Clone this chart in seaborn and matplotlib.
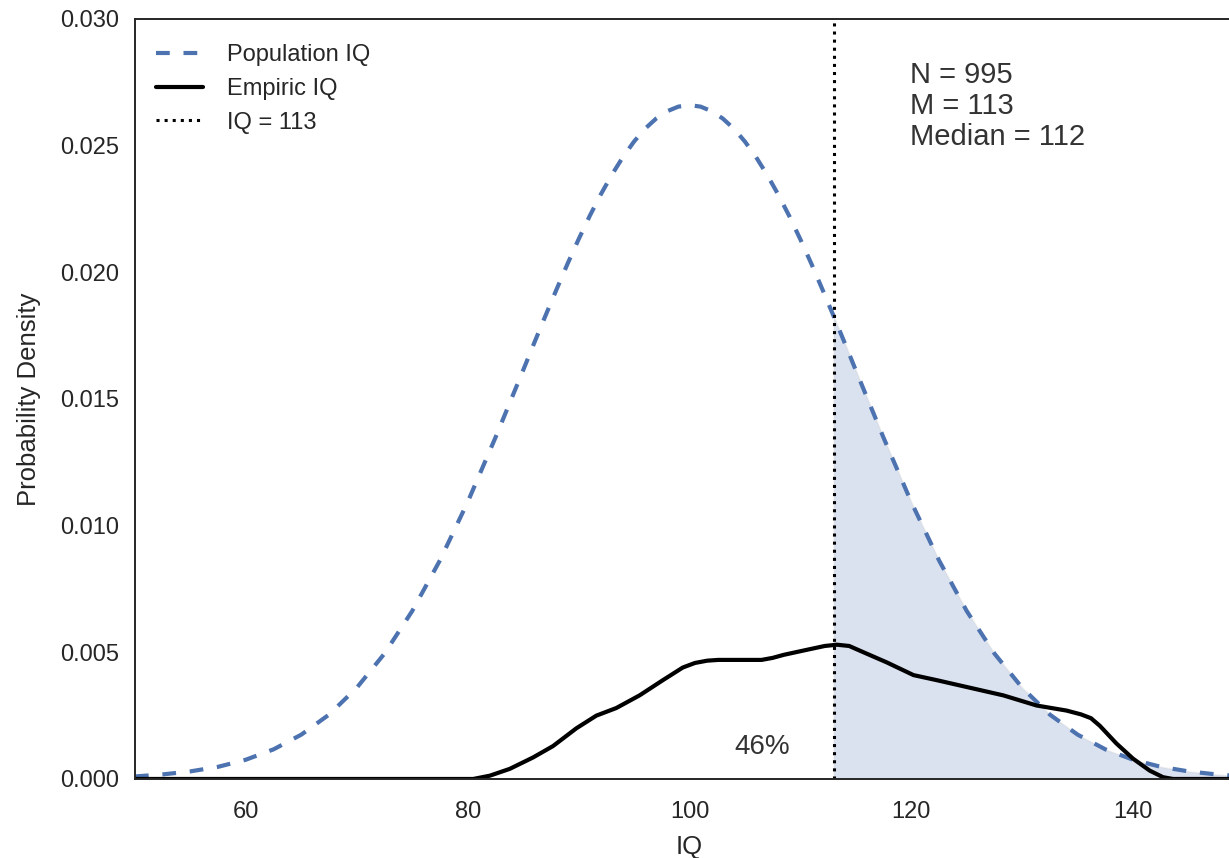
import numpy as np
import seaborn as sns
import matplotlib.pyplot as plt

# Population IQ density
pop_iq = [50, 52.5, 55, 57.5, 60, 62.5, 65, 67.5, 70, 72.5, 75, 77.5, 80, 82.5,
          85, 86, 87, 88, 89, 90, 91, 92, 93, 94, 95, 96, 97, 98, 99, 100,
          101, 102, 103, 104, 105, 106, 107, 108, 109, 110, 111, 112, 113, 114, 115,
          117.5, 120, 122.5, 125, 127.5, 130, 132.5, 135, 137.5, 140, 142.5, 145, 147.5, 150]
pop_density = [0.0001, 0.00018, 0.0003, 0.00048, 0.00076, 0.00117, 0.00175, 0.00254,
               0.0036, 0.00495, 0.00663, 0.00863, 0.01093, 0.01347,
               0.01613, 0.01721, 0.01827, 0.01931, 0.02033, 0.0213, 0.02222, 0.02307,
               0.02385, 0.02455, 0.02516, 0.02567, 0.02607, 0.02636, 0.02654, 0.0266,
               0.02654, 0.02636, 0.02607, 0.02567, 0.02516, 0.02455, 0.02385, 0.02307,
               0.02222, 0.0213, 0.02033, 0.01931, 0.01827, 0.01721, 0.01613,
               0.01347, 0.01093, 0.00863, 0.00663, 0.00495, 0.0036, 0.00254, 0.00175,
               0.00117, 0.00076, 0.00048, 0.0003, 0.00018, 0.0001]

# Empiric IQ density (black curve)
emp_iq = [50, 80.5, 82, 83.8, 85.9, 87.7, 89.8, 91.6, 93.4, 95.5, 97.6, 99.4, 100.5,
          101.6, 102.6, 104, 106.5, 107.5, 108.5, 110.6, 112.2, 113.3, 114.4, 115.7,
          117.8, 120.2, 122.3, 125.3, 128.3, 131.3, 134, 135.3, 136.2, 137, 138.5, 140,
          141.5, 142.7, 143.6, 150]
emp_density = [0, 0, 0.00013, 0.0004, 0.00085, 0.0013, 0.002, 0.0025, 0.0028, 0.0033,
               0.0039, 0.0044, 0.00458, 0.00467, 0.0047, 0.0047, 0.0047, 0.00478,
               0.0049, 0.0051, 0.00525, 0.0053, 0.00525, 0.005, 0.0046, 0.0041, 0.0039,
               0.0036, 0.0033, 0.0029, 0.0027, 0.00255, 0.0024, 0.0021, 0.0014, 0.0008,
               0.00033, 0.00007, 0, 0]

cutoff = 113
n_people = 995
mean_iq = 113
median_iq = 112
share_below = "46%"

sns.set_style("white")
plt.rcParams['font.family'] = ['Liberation Sans', 'DejaVu Sans']

fig = plt.figure(figsize=(12.29, 8.58), dpi=100)
ax = fig.add_axes([0.1098, 0.0921, 1.0122 - 0.1098, 0.9779 - 0.0921])

blue = sns.color_palette("deep")[0]

# shaded tail above the cutoff
pop_x = np.array(pop_iq)
pop_y = np.array(pop_density)
tail = pop_x >= cutoff
ax.fill_between(pop_x[tail], pop_y[tail], color=blue, alpha=0.2,
                edgecolor='0.75', linewidth=1.2)

sns.lineplot(x=pop_iq, y=pop_density, ax=ax, color=blue, linestyle=(0, (3.3, 3.3)),
             linewidth=3, label='Population IQ')
sns.lineplot(x=emp_iq, y=emp_density, ax=ax, color='black', linewidth=3,
             label='Empiric IQ')
ax.axvline(cutoff, color='black', linestyle=':', linewidth=2.2, label=f'IQ = {cutoff}')

ax.text(119.9, 0.02835, f"N = {n_people}\nM = {mean_iq}\nMedian = {median_iq}",
        fontsize=21, color='0.2', va='top', ha='left', linespacing=1.15)
ax.text(106.6, 0.00125, share_below, fontsize=20, color='0.2', ha='center', va='center')

ax.set_xlim(50, 150)
ax.set_ylim(0, 0.030)
yt = [0, 0.005, 0.010, 0.015, 0.020, 0.025, 0.030]
ax.set_yticks(yt)
ax.set_yticklabels([f"{v:.3f}" for v in yt])
ax.set_xticks([60, 80, 100, 120, 140])
ax.tick_params(labelsize=17, colors='0.15')
ax.tick_params(axis='x', pad=12)
ax.tick_params(axis='y', pad=8)
ax.set_xlabel('IQ', fontsize=18.5, color='0.15', labelpad=9)
ax.set_ylabel('Probability Density', fontsize=18.5, color='0.15', labelpad=14)
for s in ax.spines.values():
    s.set_color('0.15')
    s.set_linewidth(1.4)

ax.legend(loc='upper left', frameon=False, fontsize=17, handlelength=2.0,
          handletextpad=1.0, labelspacing=0.5, bbox_to_anchor=(0.0, 0.995))

fig.savefig('out.png', dpi=100)
